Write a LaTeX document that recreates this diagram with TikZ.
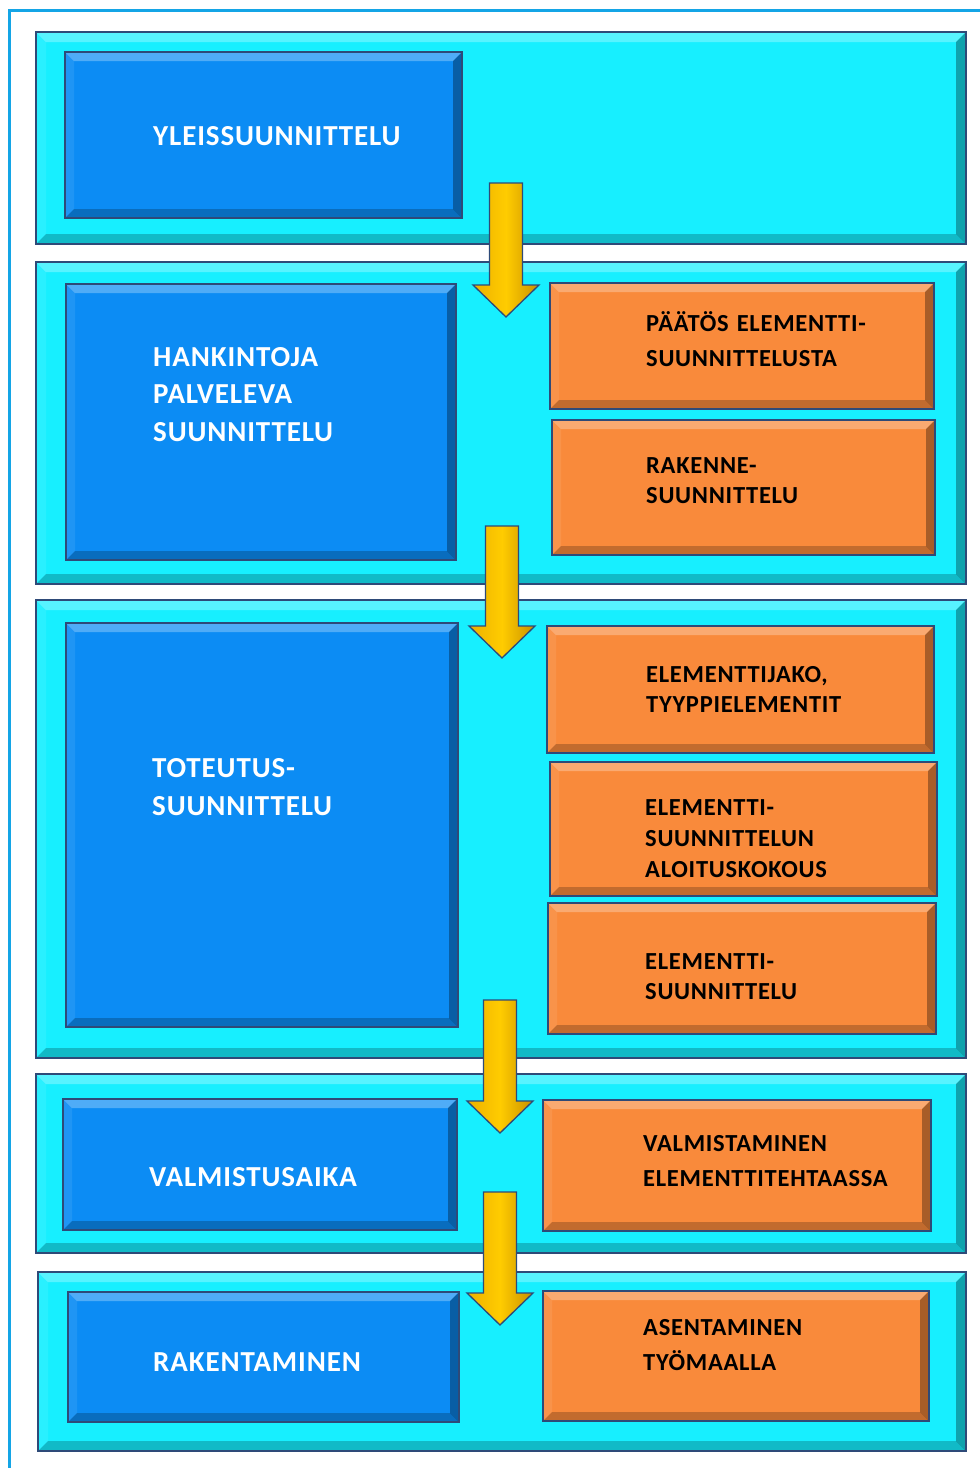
\documentclass[tikz,border=0pt]{standalone}
\usepackage{fontspec}
\setmainfont{Carlito}[LetterSpace=3]
\usepackage{tikz}
\usetikzlibrary{positioning,calc}
\definecolor{frameblue}{HTML}{14A5E6}
\definecolor{panelcyan}{HTML}{17EFFF}
\definecolor{stageblue}{HTML}{0C8CF4}
\definecolor{taskorange}{HTML}{F98A3B}
\definecolor{boxline}{HTML}{2E4A78}
\definecolor{gold}{HTML}{FFCC00}
\definecolor{goldleft}{HTML}{EDB000}
\definecolor{goldright}{HTML}{C99000}

% bevelled edge of a box node: #1 node, #2 width in pt
\newcommand{\bevel}[2]{%
  \fill[white, opacity=.28] (#1.north west) -- (#1.north east)
    -- ([xshift=-#2pt, yshift=-#2pt]#1.north east) -- ([xshift=#2pt, yshift=-#2pt]#1.north west) -- cycle;
  \fill[white, opacity=.08] (#1.north west) -- ([xshift=#2pt, yshift=-#2pt]#1.north west)
    -- ([xshift=#2pt, yshift=#2pt]#1.south west) -- (#1.south west) -- cycle;
  \fill[black, opacity=.32] (#1.north east) -- (#1.south east)
    -- ([xshift=-#2pt, yshift=#2pt]#1.south east) -- ([xshift=-#2pt, yshift=-#2pt]#1.north east) -- cycle;
  \fill[black, opacity=.22] (#1.south west) -- (#1.south east)
    -- ([xshift=-#2pt, yshift=#2pt]#1.south east) -- ([xshift=#2pt, yshift=#2pt]#1.south west) -- cycle;
  \draw[boxline, line width=1.2pt] (#1.north west) rectangle (#1.south east);
}

\begin{document}
\begin{tikzpicture}[x=1pt, y=-1pt,
  box/.style={draw=boxline, line width=1.2pt, outer sep=0pt, inner sep=0pt, anchor=north west},
  panel/.style={box, fill=panelcyan},
  stage/.style={box, fill=stageblue},
  task/.style={box, fill=taskorange},
  stagetext/.style={anchor=base west, inner sep=0pt, text width=340pt, align=left,
    text=white, font=\bfseries\fontsize{29}{37.5}\selectfont},
  tasktext/.style={anchor=base west, inner sep=0pt, text width=320pt, align=left,
    font=\bfseries\fontsize{24.5}{30}\selectfont},
  taskwide/.style={tasktext, font=\bfseries\fontsize{24.5}{35.5}\selectfont},
  flowarrow/.style={draw=boxline, line width=1.3pt,
    left color=goldleft, right color=goldright, middle color=gold,
    to path={let \p1=(\tikztostart), \p2=(\tikztotarget) in
      (\x1-16.5pt,\y1) -- (\x1+16.5pt,\y1) -- (\x1+16.5pt,\y2+32pt) -- (\x1+33pt,\y2+32pt)
      -- (\x2,\y2) -- (\x1-33pt,\y2+32pt) -- (\x1-16.5pt,\y2+32pt) -- cycle}},
]
  \useasboundingbox[fill=white] (0,0) rectangle (980,1468);
  \draw[frameblue, line width=3pt] (9,1468) -- (9,10) -- (980,10);

  % phases
  \node[panel, minimum width=930pt, minimum height=212pt] (p1) at (36,32) {};
  \node[panel, minimum width=930pt, minimum height=322pt] (p2) at (36,262) {};
  \node[panel, minimum width=930pt, minimum height=458pt] (p3) at (36,600) {};
  \node[panel, minimum width=930pt, minimum height=179pt] (p4) at (36,1074) {};
  \node[panel, minimum width=928pt, minimum height=179pt] (p5) at (38,1272) {};

  % planning stages
  \node[stage, minimum width=397pt, minimum height=166pt] (s1) at (65,52) {};
  \node[stage, minimum width=390pt, minimum height=276pt] (s2) at (66,284) {};
  \node[stage, minimum width=392pt, minimum height=404pt] (s3) at (66,623) {};
  \node[stage, minimum width=394pt, minimum height=131pt] (s4) at (63,1099) {};
  \node[stage, minimum width=391pt, minimum height=130pt] (s5) at (68,1292) {};

  % element tasks
  \node[task, minimum width=384pt, minimum height=126pt] (o1) at (550,283) {};
  \node[task, minimum width=383pt, minimum height=135pt] (o2) at (552,420) {};
  \node[task, minimum width=387pt, minimum height=127pt] (o3) at (547,626) {};
  \node[task, minimum width=387pt, minimum height=134pt] (o4) at (550,762) {};
  \node[task, minimum width=388pt, minimum height=131pt] (o5) at (548,903) {};
  \node[task, minimum width=388pt, minimum height=131pt] (o6) at (543,1100) {};
  \node[task, minimum width=386pt, minimum height=130pt] (o7) at (543,1291) {};

  \foreach \n in {p1,p2,p3,p4,p5} {\bevel{\n}{10}}
  \foreach \n in {s1,s2,s3,s4,s5,o1,o2,o3,o4,o5,o6,o7} {\bevel{\n}{9}}

  \node[stagetext] (ts1) at (153,145) {YLEISSUUNNITTELU};
  \node[stagetext] (ts2) at (153,366) {HANKINTOJA\\PALVELEVA\\SUUNNITTELU};
  \node[stagetext, font=\bfseries\fontsize{29}{38}\selectfont] (ts3) at (152,777) {TOTEUTUS-\\SUUNNITTELU};
  \node[stagetext] (ts4) at (149,1186) {VALMISTUSAIKA};
  \node[stagetext] (ts5) at (153,1371) {RAKENTAMINEN};

  \node[taskwide] (to1) at (646,331) {PÄÄTÖS ELEMENTTI-\\SUUNNITTELUSTA};
  \node[tasktext] (to2) at (646,473) {RAKENNE-\\SUUNNITTELU};
  \node[tasktext] (to3) at (646,682) {ELEMENTTIJAKO,\\TYYPPIELEMENTIT};
  \node[tasktext, font=\bfseries\fontsize{24.5}{31}\selectfont] (to4) at (645,815) {ELEMENTTI-\\SUUNNITTELUN\\ALOITUSKOKOUS};
  \node[tasktext] (to5) at (645,969) {ELEMENTTI-\\SUUNNITTELU};
  \node[taskwide] (to6) at (643,1151) {VALMISTAMINEN\\ELEMENTTITEHTAASSA};
  \node[taskwide] (to7) at (643,1335) {ASENTAMINEN\\TYÖMAALLA};

  % flow between phases
  \coordinate (a1s) at (506,183);  \coordinate (a1e) at (506,317);
  \coordinate (a2s) at (502,526);  \coordinate (a2e) at (502,658);
  \coordinate (a3s) at (500,1000); \coordinate (a3e) at (500,1133);
  \coordinate (a4s) at (500,1192); \coordinate (a4e) at (500,1325);
  \foreach \a in {1,...,4} {\path[flowarrow] (a\a s) to (a\a e);}
\end{tikzpicture}
\end{document}
